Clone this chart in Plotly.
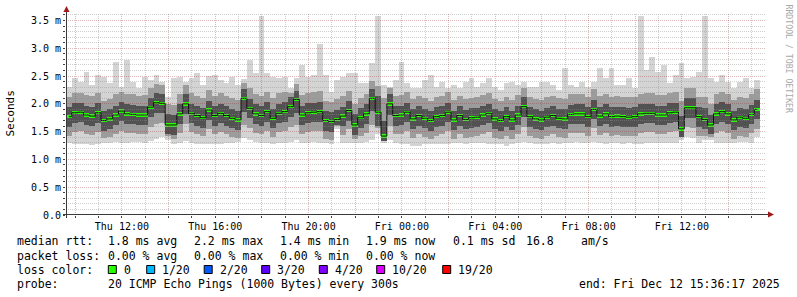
import math
import plotly.graph_objects as go
import pandas as pd

# ---- data (milliseconds), 15-minute bins over the 30 h window ----
med = [1.77,1.84,1.85,1.80,1.78,1.84,1.70,1.73,1.80,1.87,1.82,1.81,1.80,1.80,1.94,2.02,2.01,1.62,1.62,1.82,2.00,1.83,1.79,1.75,
       1.89,1.79,1.83,1.79,1.74,1.71,2.10,1.92,1.82,1.79,1.86,1.74,1.83,1.86,1.95,2.08,1.80,1.84,1.85,1.86,1.70,1.68,1.72,1.78,
       1.88,1.62,1.75,1.82,2.10,1.85,1.42,2.00,1.79,1.80,1.85,1.73,1.79,1.74,1.70,1.77,1.79,1.85,1.71,1.79,1.72,1.75,1.76,1.80,
       1.83,1.73,1.70,1.77,1.71,1.80,1.95,1.77,1.73,1.71,1.76,1.79,1.74,1.73,1.81,1.82,1.82,1.77,1.90,1.78,1.82,1.77,1.78,1.77,
       1.76,1.77,1.82,1.83,1.83,1.80,1.80,1.84,1.85,1.55,1.93,1.93,1.77,1.72,1.62,1.82,1.86,1.82,1.71,1.76,1.74,1.81,1.90]
mn = [1.30,1.28,1.27,1.27,1.26,1.28,1.30,1.30,1.32,1.30,1.30,1.32,1.32,1.30,1.34,1.36,1.40,1.35,1.28,1.30,1.33,1.30,1.28,1.27,
      1.28,1.27,1.28,1.30,1.30,1.32,1.38,1.35,1.32,1.30,1.30,1.28,1.30,1.30,1.32,1.35,1.30,1.30,1.32,1.30,1.30,1.28,1.55,1.30,
      1.30,1.30,1.30,1.32,1.35,1.45,1.30,1.35,1.30,1.28,1.27,1.25,1.25,1.27,1.27,1.28,1.27,1.27,1.30,1.30,1.28,1.30,1.30,1.30,
      1.28,1.28,1.27,1.25,1.27,1.30,1.32,1.30,1.28,1.27,1.28,1.30,1.28,1.30,1.30,1.32,1.30,1.30,1.32,1.30,1.28,1.30,1.30,1.28,
      1.30,1.28,1.28,1.30,1.30,1.30,1.30,1.30,1.30,1.35,1.40,1.38,1.30,1.35,1.35,1.30,1.30,1.30,1.30,1.32,1.32,1.30,1.40]
mx = [2.30,2.46,2.40,2.58,2.34,2.52,2.49,2.37,2.76,2.31,2.79,2.40,2.28,2.49,2.43,2.52,2.40,2.13,2.46,2.49,2.40,2.46,2.55,2.34,
      2.50,2.52,2.43,2.37,2.49,2.34,2.45,2.79,2.55,3.59,2.55,2.49,2.46,2.49,2.28,2.46,2.70,2.49,2.52,3.08,2.52,2.22,2.43,2.49,
      2.55,2.55,2.37,2.37,2.73,3.59,2.34,2.30,2.43,2.76,2.37,2.28,2.28,2.43,2.52,2.31,2.40,2.28,2.34,2.28,2.40,2.46,2.31,2.37,
      2.46,2.31,2.25,2.37,2.40,2.34,2.40,2.31,2.31,2.40,2.40,2.34,2.25,2.64,2.34,2.31,2.40,2.31,2.40,2.64,2.46,2.64,2.34,2.34,
      2.46,2.28,3.59,2.61,2.85,2.58,2.70,2.37,2.52,2.73,2.46,2.49,2.58,3.59,2.46,2.40,2.52,2.40,2.28,2.40,2.46,2.28,2.43]
lo = [1.43,1.50,1.52,1.46,1.44,1.50,1.38,1.40,1.46,1.52,1.48,1.47,1.46,1.46,1.58,1.64,1.66,1.42,1.36,1.48,1.64,1.49,1.45,1.42,
      1.55,1.45,1.49,1.45,1.40,1.38,1.62,1.56,1.48,1.45,1.52,1.40,1.49,1.52,1.58,1.62,1.46,1.50,1.51,1.52,1.37,1.35,1.60,1.44,
      1.54,1.36,1.42,1.48,1.62,1.56,1.34,1.60,1.45,1.46,1.51,1.39,1.45,1.40,1.36,1.43,1.45,1.51,1.37,1.45,1.38,1.41,1.42,1.46,
      1.49,1.39,1.36,1.43,1.37,1.46,1.58,1.43,1.39,1.37,1.42,1.45,1.40,1.39,1.47,1.48,1.48,1.43,1.56,1.44,1.48,1.43,1.44,1.43,
      1.42,1.43,1.48,1.49,1.49,1.46,1.46,1.50,1.51,1.40,1.58,1.56,1.43,1.42,1.40,1.48,1.52,1.48,1.37,1.42,1.40,1.47,1.54]
hi = [2.12,2.20,2.20,2.16,2.14,2.20,2.06,2.09,2.18,2.22,2.18,2.17,2.15,2.16,2.28,2.36,2.34,2.00,1.98,2.18,2.34,2.19,2.15,2.10,
      2.25,2.15,2.19,2.15,2.10,2.07,2.38,2.28,2.18,2.15,2.22,2.10,2.19,2.22,2.20,2.36,2.16,2.20,2.21,2.24,2.06,2.04,2.08,2.14,
      2.24,2.00,2.11,2.18,2.42,2.32,2.10,2.28,2.15,2.16,2.21,2.09,2.15,2.10,2.06,2.13,2.15,2.21,2.07,2.15,2.08,2.11,2.12,2.16,
      2.19,2.09,2.06,2.13,2.07,2.16,2.28,2.13,2.09,2.07,2.12,2.15,2.10,2.09,2.17,2.18,2.18,2.13,2.26,2.14,2.18,2.13,2.14,2.13,
      2.12,2.13,2.18,2.19,2.19,2.16,2.16,2.20,2.21,2.05,2.29,2.29,2.13,2.12,2.00,2.18,2.22,2.18,2.07,2.12,2.10,2.17,2.26]
cl = [1.59,1.66,1.67,1.62,1.60,1.66,1.52,1.55,1.62,1.69,1.64,1.63,1.62,1.62,1.76,1.84,1.83,1.46,1.44,1.64,1.82,1.65,1.61,1.57,
      1.71,1.61,1.65,1.61,1.56,1.53,1.86,1.74,1.64,1.61,1.68,1.56,1.65,1.68,1.77,1.84,1.62,1.66,1.67,1.68,1.52,1.50,1.62,1.60,
      1.70,1.44,1.57,1.64,1.88,1.60,1.34,1.80,1.61,1.62,1.67,1.55,1.61,1.56,1.52,1.59,1.61,1.67,1.53,1.61,1.54,1.57,1.58,1.62,
      1.65,1.55,1.52,1.59,1.53,1.62,1.77,1.59,1.55,1.53,1.58,1.61,1.56,1.55,1.63,1.64,1.64,1.59,1.72,1.60,1.64,1.59,1.60,1.59,
      1.58,1.59,1.64,1.65,1.65,1.62,1.62,1.66,1.67,1.40,1.75,1.75,1.59,1.54,1.45,1.64,1.68,1.64,1.53,1.58,1.56,1.63,1.72]
ch = [1.94,2.01,2.02,1.97,1.95,2.01,1.87,1.90,1.97,2.04,1.99,1.98,1.97,1.97,2.11,2.19,2.18,1.82,1.80,1.99,2.17,2.00,1.96,1.92,
      2.06,1.96,2.00,1.96,1.91,1.88,2.26,2.09,1.99,1.96,2.03,1.91,2.00,2.03,2.12,2.24,1.97,2.01,2.02,2.03,1.87,1.85,1.89,1.95,
      2.05,1.82,1.92,1.99,2.27,2.15,1.70,2.17,1.96,1.97,2.02,1.90,1.96,1.91,1.87,1.94,1.96,2.02,1.88,1.96,1.89,1.92,1.93,1.97,
      2.00,1.90,1.87,1.94,1.88,1.97,2.12,1.94,1.90,1.88,1.93,1.96,1.91,1.90,1.98,1.99,1.99,1.94,2.07,1.95,1.99,1.94,1.95,1.94,
      1.93,1.94,1.99,2.00,2.00,1.97,1.97,2.01,2.02,1.78,2.10,2.10,1.94,1.92,1.80,1.99,2.03,1.99,1.88,1.93,1.91,1.98,2.07]

y_ticks = [0, 0.5, 1.0, 1.5, 2.0, 2.5, 3.0, 3.5]
y_labels = ["0.0", "0.5 m", "1.0 m", "1.5 m", "2.0 m", "2.5 m", "3.0 m", "3.5 m"]
x_ticks = ["2025-12-11 10:00", "2025-12-11 12:00", "2025-12-11 14:00", "2025-12-11 16:00",
           "2025-12-11 18:00", "2025-12-11 20:00", "2025-12-11 22:00", "2025-12-12 00:00",
           "2025-12-12 02:00", "2025-12-12 04:00", "2025-12-12 06:00", "2025-12-12 08:00",
           "2025-12-12 10:00", "2025-12-12 12:00", "2025-12-12 14:00"]
x_labels = ["", "Thu 12:00", "", "Thu 16:00", "", "Thu 20:00", "", "Fri 00:00",
            "", "Fri 04:00", "", "Fri 08:00", "", "Fri 12:00", ""]

loss_labels = ["0", "1/20", "2/20", "3/20", "4/20", "10/20", "19/20"]
loss_colors = ["#26ff00", "#00b8ff", "#0059ff", "#5e00ff", "#7e00ff", "#dd00ff", "#ff0000"]

start = pd.Timestamp("2025-12-11 09:36:17")
end = pd.Timestamp("2025-12-12 15:36:17")
step = pd.Timedelta(minutes=15)
t = [start + step * i + step / 2 for i in range(len(med))]
W = 15 * 60 * 1000

fig = go.Figure()

def band(low, high, color):
    fig.add_trace(go.Bar(x=t, base=low, y=[h - l for l, h in zip(low, high)], width=W,
                         marker=dict(color=color, line=dict(width=0)),
                         hoverinfo="skip", showlegend=False))

band(mn, mx, "#d4d4d4")
band(lo, hi, "#9c9c9c")
band(cl, ch, "#525252")
fig.add_trace(go.Scatter(x=t, y=med, mode="lines", line=dict(shape="hvh", color="#111111", width=1),
                         hoverinfo="skip", showlegend=False))
gh = 0.06
fig.add_trace(go.Bar(x=t, base=[m - gh / 2 for m in med], y=[gh] * len(med), width=W,
                     marker=dict(color=loss_colors[0], line=dict(width=0)),
                     hoverinfo="skip", showlegend=False))

MONO = "DejaVu Sans Mono"
L, R, T, B = 66, 31, 13, 82
PW, PH = 797 - L - R, 297 - T - B
PXMS = 55.57
YMAX = PH / PXMS

def px(x):
    return (x - L) / PW

def py(y):
    return (297 - B - y) / PH

major = "rgba(150,40,40,0.32)"
minor = "rgba(140,140,140,0.42)"

fig.update_layout(
    width=797, height=297, margin=dict(l=L, r=R, t=T, b=B),
    paper_bgcolor="white", plot_bgcolor="white",
    barmode="overlay", bargap=0, showlegend=False,
    xaxis=dict(type="date", range=[start, end], tickmode="array", tickvals=x_ticks, ticktext=x_labels,
               showgrid=False, ticks="outside", ticklen=2, tickcolor="#444", zeroline=False, showline=False,
               tickfont=dict(family=MONO, size=10, color="#000"),
               minor=dict(tickmode="linear", tick0="2025-12-11 09:00", dtick=3600000, showgrid=False,
                          ticks="outside", ticklen=2, tickcolor="#444")),
    yaxis=dict(range=[0, YMAX], tickmode="array", tickvals=y_ticks, ticktext=y_labels,
               showgrid=False, ticks="outside", ticklen=2, tickcolor="#444", zeroline=False, showline=False,
               tickfont=dict(family=MONO, size=10, color="#000"),
               minor=dict(tickmode="linear", tick0=0, dtick=0.1, showgrid=False,
                          ticks="outside", ticklen=2, tickcolor="#444")),
)

shapes = []
# grid drawn above the smoke, snapped to pixel centres
for k in range(1, 37):
    ypix = math.floor(T + PH - k * 0.1 * PXMS) + 0.5
    col = major if k % 5 == 0 else minor
    shapes.append(dict(type="line", xref="paper", yref="paper", x0=0, x1=1, y0=py(ypix), y1=py(ypix),
                       layer="above", line=dict(color=col, width=1, dash="1px,1px")))
g0 = pd.Timestamp("2025-12-11 10:00")
for h in range(30):
    tt = g0 + pd.Timedelta(hours=h)
    if tt > end:
        break
    xpix = math.floor(L + (tt - start) / (end - start) * PW) + 0.5
    col = major if h % 2 == 0 else minor
    shapes.append(dict(type="line", xref="paper", yref="paper", x0=px(xpix), x1=px(xpix), y0=0, y1=1,
                       layer="above", line=dict(color=col, width=1, dash="1px,1px")))

axis_col = "#3a3a3a"
arrow_col = "#a01818"
shapes.append(dict(type="line", xref="paper", yref="paper", x0=px(63), x1=px(770), y0=py(214.5), y1=py(214.5),
                   layer="above", line=dict(color=axis_col, width=1)))
shapes.append(dict(type="line", xref="paper", yref="paper", x0=px(66.5), x1=px(66.5), y0=py(218), y1=py(10),
                   layer="above", line=dict(color=axis_col, width=1)))
shapes.append(dict(type="path", xref="paper", yref="paper",
                   path=f"M {px(66.5)},{py(6)} L {px(63.5)},{py(12)} L {px(69.5)},{py(12)} Z",
                   fillcolor=arrow_col, line=dict(width=0)))
shapes.append(dict(type="path", xref="paper", yref="paper",
                   path=f"M {px(774)},{py(214.5)} L {px(768)},{py(211.5)} L {px(768)},{py(217.5)} Z",
                   fillcolor=arrow_col, line=dict(width=0)))

ann = []
def text(x, y, s, size=11.5, color="#000", **kw):
    ann.append(dict(x=px(x), y=py(y), xref="paper", yref="paper", text=s, showarrow=False,
                    xanchor=kw.get("xanchor", "left"), yanchor="middle", borderpad=0,
                    textangle=kw.get("angle", 0), font=dict(family=MONO, size=size, color=color)))

# legend lines
text(16, 241.5, "median rtt:")
for xx, s in zip([107.3, 193.3, 279.3, 365, 451.7, 525, 580],
                 ["1.8 ms avg", "2.2 ms max", "1.4 ms min", "1.9 ms now", "0.1 ms sd", "16.8", "am/s"]):
    text(xx, 241.5, s)
text(16, 255.5, "packet loss:")
for xx, s in zip([107.3, 193.3, 279.3, 365], ["0.00 % avg", "0.00 % max", "0.00 % min", "0.00 % now"]):
    text(xx, 255.5, s)
text(16, 269.5, "loss color:")
box_x = [108.3, 146.7, 204.2, 261.7, 319.3, 376.7, 442.7]
for bx, lab, col in zip(box_x, loss_labels, loss_colors):
    shapes.append(dict(type="rect", xref="paper", yref="paper", x0=px(bx), x1=px(bx + 8),
                       y0=py(273.5), y1=py(265.5), fillcolor=col, line=dict(color="#000", width=1)))
    text(bx + 14.5, 269.5, lab)
text(16, 283.5, "probe:")
text(107.3, 283.5, "20 ICMP Echo Pings (1000 Bytes) every 300s")
text(578.3, 283.5, "end: Fri Dec 12 15:36:17 2025")

text(10, 113.5, "Seconds", size=11, xanchor="center", angle=-90)
text(788.5, 59, "RRDTOOL / TOBI OETIKER", size=8.2, color="#a8a8a8", xanchor="center", angle=90)

fig.update_layout(shapes=shapes, annotations=ann)
fig.write_html("out.html")
